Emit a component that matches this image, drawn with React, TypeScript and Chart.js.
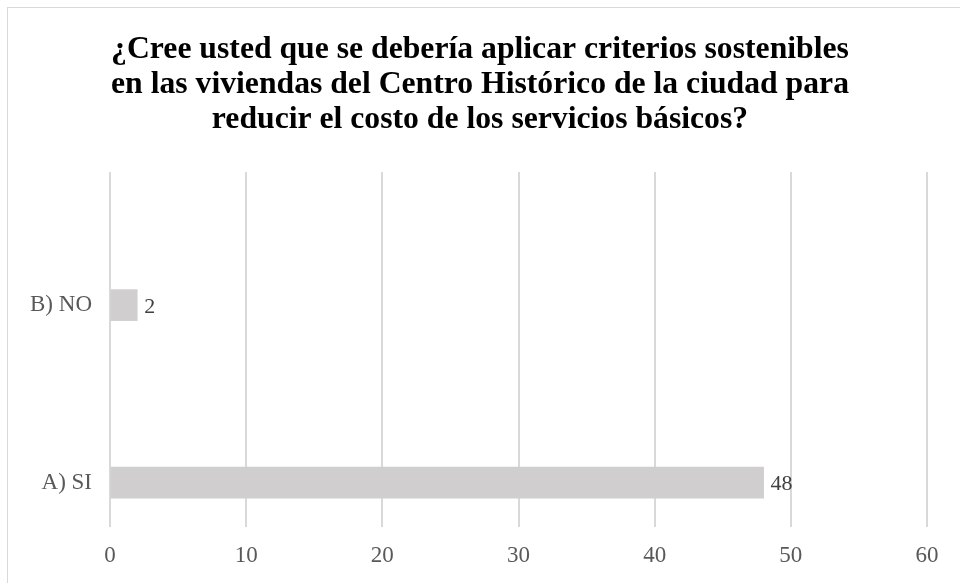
import React, { useEffect, useRef } from "react";
import { Chart, registerables } from "chart.js";

Chart.register(...registerables);

const titleLines = [
  "¿Cree usted que se debería aplicar criterios sostenibles",
  "en las viviendas del Centro Histórico de la ciudad para",
  "reducir el costo de los servicios básicos?",
];
const categories = ["A) SI", "B) NO"];
const values = [48, 2];
const xTicks = [0, 10, 20, 30, 40, 50, 60];

const FONT = "'Liberation Serif', 'Times New Roman', serif";

const valueLabels = {
  id: "valueLabels",
  afterDatasetsDraw(chart: any) {
    const ctx = chart.ctx;
    const meta = chart.getDatasetMeta(0);
    ctx.save();
    ctx.font = `22px ${FONT}`;
    ctx.fillStyle = "#404040";
    ctx.textAlign = "left";
    ctx.textBaseline = "middle";
    meta.data.forEach((bar: any, i: number) => {
      ctx.fillText(String(values[i]), bar.x + 7, bar.y + 2);
    });
    ctx.restore();
  },
};

export default function App() {
  const ref = useRef<HTMLCanvasElement | null>(null);
  useEffect(() => {
    if (!ref.current) return;
    const chart = new Chart(ref.current, {
      type: "bar",
      data: {
        datasets: [
          {
            data: values.map((v, i) => ({ x: v, y: i })),
            backgroundColor: "#d0cece",
            borderWidth: 0,
            barThickness: 31,
          },
        ],
      },
      options: {
        indexAxis: "y",
        animation: false,
        responsive: false,
        devicePixelRatio: 1,
        layout: { padding: 0 },
        plugins: {
          legend: { display: false },
          tooltip: { enabled: false },
          title: {
            display: true,
            text: titleLines,
            color: "#000000",
            font: { family: FONT, size: 31.7, weight: "bold", lineHeight: 35 / 31.7 },
            padding: { top: 32, bottom: 35 },
          },
        },
        scales: {
          x: {
            type: "linear",
            min: 0,
            max: 60,
            afterBuildTicks: (s: any) => {
              s.ticks = xTicks.map((v) => ({ value: v }));
            },
            afterFit: (s: any) => {
              s.height = 56;
              s.paddingRight = 33;
            },
            grid: { color: "#d9d9d9", lineWidth: 2, drawTicks: false },
            border: { display: false },
            ticks: {
              color: "#595959",
              font: { family: FONT, size: 23 },
              padding: 15,
            },
          },
          y: {
            type: "linear",
            offset: false,
            min: -0.25,
            max: 1.75,
            afterBuildTicks: (s: any) => {
              s.ticks = categories.map((_, i) => ({ value: i }));
            },
            afterFit: (s: any) => {
              s.width = 110;
            },
            grid: { display: false, drawTicks: false, offset: false },
            border: { display: false },
            ticks: {
              color: "#595959",
              font: { family: FONT, size: 23 },
              padding: 18,
              callback: (v: any) => categories[v as number] ?? "",
            },
          },
        },
      },
      plugins: [valueLabels],
    });
    return () => chart.destroy();
  }, []);

  return (
    <div
      style={{
        position: "fixed",
        left: 0,
        top: 0,
        width: 960,
        height: 583,
        overflow: "hidden",
        background: "#ffffff",
      }}
    >
      <div
        style={{
          position: "absolute",
          left: 7,
          top: 7,
          width: 980,
          height: 600,
          border: "1px solid #d9d9d9",
        }}
      />
      <canvas
        ref={ref}
        width={960}
        height={583}
        style={{ position: "absolute", left: 0, top: 0 }}
      />
    </div>
  );
}
